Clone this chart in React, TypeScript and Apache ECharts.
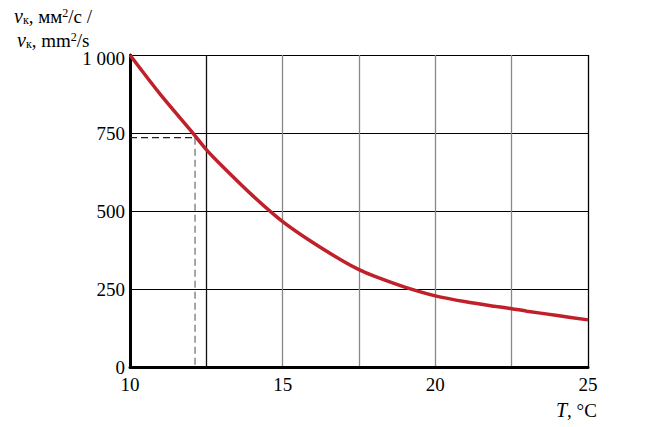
import React, { useEffect, useRef } from "react";
import * as echarts from "echarts";

const temperatures = [10, 11, 12, 12.5, 13, 14, 15, 16, 17, 17.5, 18, 19, 20, 21, 22, 22.5, 23, 24, 25];
const viscosity = [1000, 873, 757, 697, 646, 551, 466, 398, 338, 312, 291, 256, 228, 209, 194, 187, 179, 165, 151];
const markerT = 12.13;
const markerV = 735;
const xLabels = [10, 15, 20, 25];

const FONT = "Liberation Serif";

export default function App() {
  const ref = useRef<HTMLDivElement>(null);
  useEffect(() => {
    if (!ref.current) return;
    const chart = echarts.init(ref.current, null, { renderer: "svg" });
    const curve = temperatures.map((t, i) => [t, viscosity[i]]);
    const rich = {
      i: { fontFamily: FONT, fontStyle: "italic", fontSize: 20, color: "#000", lineHeight: 19 },
      s: { fontFamily: FONT, fontSize: 12, color: "#000", padding: [7, 0, 0, 0], lineHeight: 12 },
      n: { fontFamily: FONT, fontSize: 19, color: "#000", lineHeight: 19 },
      sup: { fontFamily: FONT, fontSize: 12, color: "#000", padding: [0, 0, 7, 0], lineHeight: 12 },
    };
    chart.setOption({
      animation: false,
      backgroundColor: "#fff",
      grid: { left: 130, right: 59, top: 55, bottom: 60 },
      xAxis: {
        type: "value",
        min: 10,
        max: 25,
        interval: 2.5,
        axisLine: { show: true, onZero: false, lineStyle: { color: "#000", width: 3 } },
        axisTick: { show: false },
        axisLabel: {
          color: "#000",
          fontFamily: FONT,
          fontSize: 19,
          margin: 8,
          formatter: (v: number) => (xLabels.includes(v) ? String(v) : ""),
        },
        splitLine: {
          show: true,
          lineStyle: { color: ["#000", "#111", "#888", "#888", "#888", "#888", "#000"], width: 1.3 },
        },
      },
      yAxis: {
        type: "value",
        min: 0,
        max: 1000,
        interval: 250,
        axisLine: { show: true, lineStyle: { color: "#000", width: 3 } },
        axisTick: { show: false },
        axisLabel: {
          color: "#000",
          fontFamily: FONT,
          fontSize: 19,
          margin: 5,
          formatter: (v: number) => (v === 1000 ? "{top|1 000}" : String(v)),
          rich: {
            top: { fontFamily: FONT, fontSize: 19, color: "#000", padding: [6, 0, 0, 0] },
          },
        },
        splitLine: { show: true, lineStyle: { color: "#000", width: 1 } },
      },
      graphic: [
        {
          type: "text",
          left: 14,
          top: 6,
          style: { text: "{i|v}{s|к}{n|, мм}{sup|2}{n|/с /}", rich },
        },
        {
          type: "text",
          left: 17,
          top: 30,
          style: { text: "{i|v}{s|к}{n|, mm}{sup|2}{n|/s}", rich },
        },
        {
          type: "text",
          left: 556,
          top: 400,
          style: {
            text: "{i|T}{n|, °C}",
            rich,
          },
        },
      ],
      series: [
        {
          type: "line",
          data: [[10, markerV], [markerT, markerV]],
          symbol: "none",
          lineStyle: { color: "#222", width: 1.2, type: [7, 4] },
          z: 3,
        },
        {
          type: "line",
          data: [[markerT, markerV], [markerT, 0]],
          symbol: "none",
          lineStyle: { color: "#888", width: 1.5, type: [7, 4] },
          z: 3,
        },
        {
          type: "line",
          data: curve,
          smooth: 0.3,
          symbol: "none",
          lineStyle: { color: "#C0202A", width: 3.5 },
          z: 5,
        },
      ],
    });
    return () => chart.dispose();
  }, []);
  return <div ref={ref} style={{ width: 647, height: 427, position: "absolute", left: 0, top: 0 }} />;
}
